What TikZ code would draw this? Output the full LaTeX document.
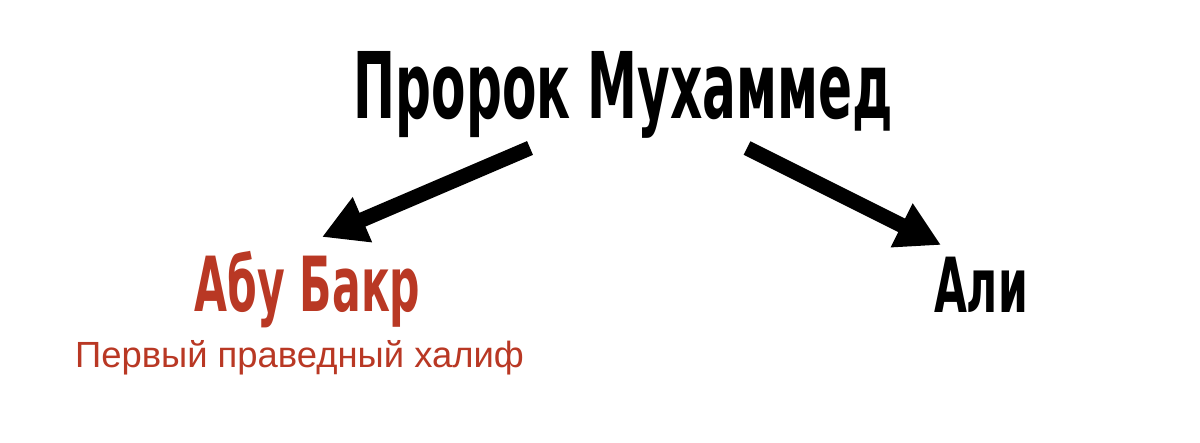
\documentclass[tikz,border=0pt]{standalone}
\usepackage{fontspec}
\usetikzlibrary{arrows.meta}
\setmainfont{Liberation Sans}
\newfontfamily\dinfont[FakeStretch=0.56]{DejaVu Sans Bold}
\newfontfamily\dintitlefont[FakeStretch=0.545]{DejaVu Sans Bold}
\definecolor{abured}{RGB}{185,56,36}
\tikzset{
  heading/.style={inner sep=0pt, anchor=base, font=\dintitlefont\fontsize{46pt}{50pt}\selectfont},
  person/.style={inner sep=0pt, anchor=base, font=\dinfont\fontsize{38pt}{42pt}\selectfont},
  subtitle/.style={inner sep=0pt, anchor=base, font=\fontsize{18.2pt}{20pt}\selectfont},
  bigarrow/.style={line width=7.5pt, -{Triangle[length=22pt,width=23pt]}}
}
\begin{document}
\begin{tikzpicture}[x=0.5pt,y=-0.5pt]
\fill[white] (0,0) rectangle (1200,443);
\useasboundingbox (0,0) rectangle (1200,443);
\node[heading] (prophet) at (623.5,119) {Пророк Мухаммед};
\node[person, text=abured] (abubakr) at (307.5,312) {Абу Бакр};
\node[subtitle, text=abured] (first) at (299.5,368) {Первый праведный халиф};
\node[person] (ali) at (981,313) {Али};
\coordinate (lstart) at (530,148);
\coordinate (ltip) at (322,237);
\coordinate (rstart) at (747,148);
\coordinate (rtip) at (941,245);
\draw[bigarrow] (lstart) -- (ltip);
\draw[bigarrow] (rstart) -- (rtip);
\end{tikzpicture}
\end{document}
